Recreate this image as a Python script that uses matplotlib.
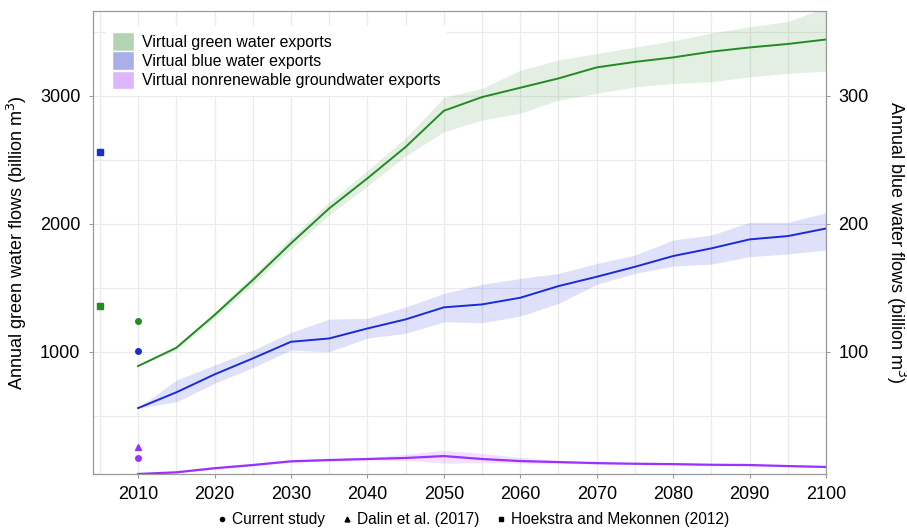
import matplotlib
matplotlib.use('Agg')
import matplotlib.pyplot as plt
from matplotlib.patches import Patch
from matplotlib.lines import Line2D
from matplotlib.ticker import MultipleLocator

plt.rcParams['font.family'] = ['Liberation Sans', 'DejaVu Sans']

years = [2010, 2015, 2020, 2025, 2030, 2035, 2040, 2045, 2050, 2055,
         2060, 2065, 2070, 2075, 2080, 2085, 2090, 2095, 2100]

# virtual green water exports (billion m3, left axis)
green_mid = [888, 1031, 1287, 1560, 1847, 2120, 2355, 2600, 2883, 2990,
             3063, 3136, 3222, 3265, 3300, 3345, 3378, 3405, 3440]
green_lo = [888, 1016, 1262, 1525, 1802, 2070, 2295, 2530, 2719, 2810,
            2865, 2966, 3019, 3070, 3097, 3110, 3148, 3175, 3193]
green_hi = [888, 1046, 1312, 1595, 1892, 2170, 2415, 2670, 2987, 3058,
            3200, 3280, 3330, 3380, 3430, 3490, 3540, 3580, 3690]

# virtual blue water exports (billion m3, right axis)
blue_mid = [56.0, 68.3, 82.3, 94.8, 107.8, 110.4, 118.2, 125.3, 134.7, 137.0,
            142.2, 151.3, 158.6, 166.4, 174.8, 180.8, 187.8, 190.4, 196.3]
blue_lo = [56.0, 60.9, 75.3, 87.7, 101.3, 100.0, 110.7, 114.4, 123.4, 122.7,
           127.9, 137.8, 152.7, 161.2, 167.0, 168.5, 174.3, 176.4, 179.5]
blue_hi = [56.0, 77.9, 89.6, 101.3, 115.0, 125.5, 126.1, 134.9, 145.6, 152.7,
           157.3, 161.2, 169.0, 175.5, 187.3, 191.2, 201.1, 201.1, 208.6]

# virtual nonrenewable groundwater exports (billion m3, right axis)
gw_mid = [4.5, 5.8, 9.0, 11.5, 14.4, 15.4, 16.2, 17.0, 18.5, 16.2,
          14.6, 13.8, 13.0, 12.5, 12.2, 11.7, 11.5, 10.7, 10.0]
gw_lo = [4.5, 5.3, 8.3, 10.7, 13.6, 14.6, 15.3, 15.0, 13.0, 13.3,
         13.0, 12.8, 12.3, 11.9, 11.6, 11.1, 10.9, 10.1, 9.4]
gw_hi = [4.5, 6.3, 9.7, 12.3, 15.2, 16.3, 17.2, 20.0, 23.0, 20.6,
         17.5, 15.0, 13.7, 13.1, 12.8, 12.3, 12.1, 11.3, 10.6]

# point estimates from this and earlier studies
current_year = 2010
current_green = 1242
current_blue = 100.5
current_gw = 17.2
dalin_year = 2010
dalin_gw = 25.8
hoekstra_year = 2005
hoekstra_green = 1357
hoekstra_blue = 256

c_green = '#228B22'
c_blue = '#1a2bd8'
c_gw = '#9B30FF'

fig = plt.figure(figsize=(9.07, 5.28), dpi=100)
ax = fig.add_axes([0.1025, 0.1023, 0.8082, 0.8767])
ax2 = ax.twinx()

ax.set_xlim(2004.1, 2100)
ax.set_ylim(45, 3662)
ax2.set_ylim(4.5, 366.2)

# grid (major + minor) in light grey, like a ggplot panel
ax.xaxis.set_major_locator(MultipleLocator(10))
ax.xaxis.set_minor_locator(MultipleLocator(5))
ax.set_xticks(range(2010, 2101, 10))
ax.set_yticks([1000, 2000, 3000])
ax.yaxis.set_minor_locator(MultipleLocator(500))
ax2.set_yticks([100, 200, 300])
ax.grid(True, which='both', color='#ebebeb', linewidth=0.9)
ax.set_axisbelow(True)

ax.fill_between(years, green_lo, green_hi, color=c_green, alpha=0.13, linewidth=0)
ax.plot(years, green_mid, color=c_green, linewidth=1.4)
ax.plot(current_year, current_green, 'o', color=c_green, markersize=4)
ax.plot(hoekstra_year, hoekstra_green, 's', color=c_green, markersize=4)

ax2.fill_between(years, blue_lo, blue_hi, color=c_blue, alpha=0.14, linewidth=0)
ax2.plot(years, blue_mid, color=c_blue, linewidth=1.4)
ax2.fill_between(years, gw_lo, gw_hi, color=c_gw, alpha=0.14, linewidth=0)
ax2.plot(years, gw_mid, color=c_gw, linewidth=1.6)
ax2.plot(current_year, current_blue, 'o', color=c_blue, markersize=4)
ax2.plot(hoekstra_year, hoekstra_blue, 's', color=c_blue, markersize=4)
ax2.plot(current_year, current_gw, 'o', color=c_gw, markersize=4)
ax2.plot(dalin_year, dalin_gw, '^', color=c_gw, markersize=5)

for a in (ax, ax2):
    for s in a.spines.values():
        s.set_color('#999999')
        s.set_linewidth(0.8)
    a.tick_params(which='major', length=3, color='#999999', labelsize=13, pad=6)
    a.tick_params(which='minor', length=0)

ax.set_ylabel('Annual green water flows (billion m$^3$)', fontsize=13, labelpad=8)
ax2.set_ylabel('Annual blue water flows (billion m$^3$)', fontsize=13,
               rotation=-90, labelpad=28)

handles = [Patch(facecolor='#b3d4b3', edgecolor='white', label='Virtual green water exports'),
           Patch(facecolor='#abafe9', edgecolor='white', label='Virtual blue water exports'),
           Patch(facecolor='#ddb6fd', edgecolor='white', label='Virtual nonrenewable groundwater exports')]
leg = ax2.legend(handles=handles, loc='upper left', bbox_to_anchor=(0.007, 0.985),
                 fontsize=11.4, frameon=True, facecolor='white', edgecolor='none',
                 framealpha=1, fancybox=False, handlelength=1.35, handleheight=1.45,
                 labelspacing=0.02, handletextpad=0.55, borderpad=0.4)

source_handles = [Line2D([], [], marker='o', color='black', linestyle='none', markersize=3),
                  Line2D([], [], marker='^', color='black', linestyle='none', markersize=3.5),
                  Line2D([], [], marker='s', color='black', linestyle='none', markersize=3)]
fig.legend(source_handles, ['Current study', 'Dalin et al. (2017)', 'Hoekstra and Mekonnen (2012)'],
           loc='lower center', bbox_to_anchor=(0.522, -0.025), ncol=3, frameon=False,
           fontsize=11.2, handlelength=0.6, handletextpad=0.35, columnspacing=1.1)

fig.savefig('out.png', dpi=100)
